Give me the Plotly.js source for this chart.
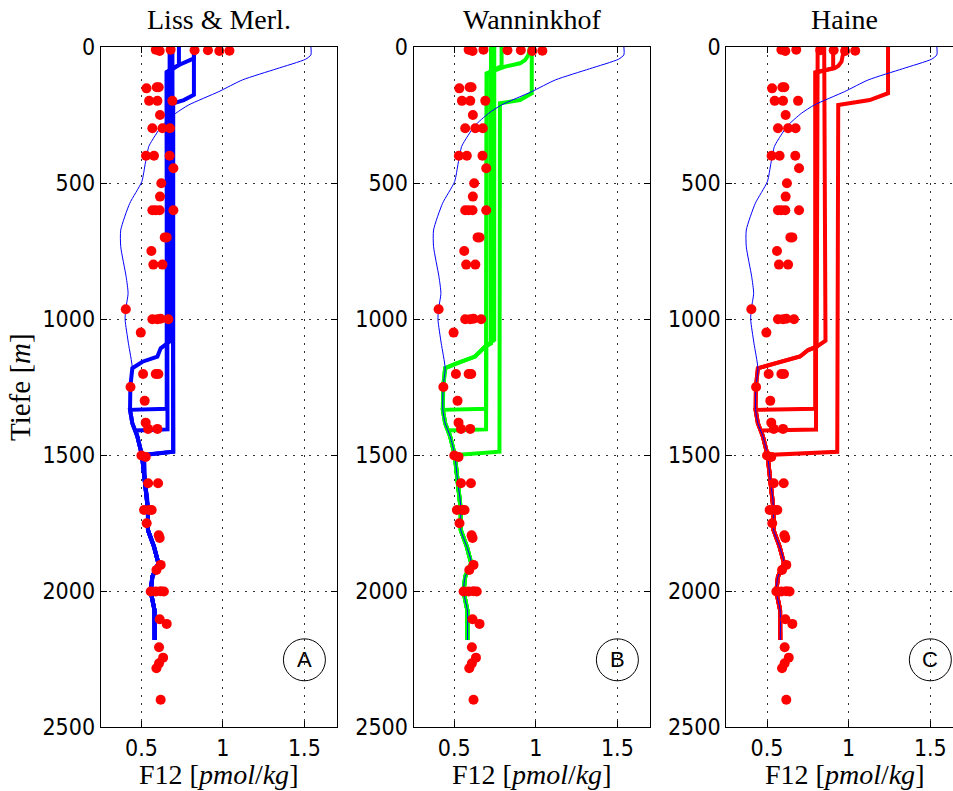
<!DOCTYPE html>
<html><head><meta charset="utf-8">
<script src="https://cdn.plot.ly/plotly-3.0.1.min.js"></script>
<style>html,body{margin:0;padding:0;overflow:hidden;background:#fff}#chart{width:1000px;height:791px}</style>
</head><body><div id="chart"></div>
<script>
// ---- panel titles / labels ----
const panelTitles = ['Liss &amp; Merl.', 'Wanninkhof', 'Haine'];
const panelLetters = ['A', 'B', 'C'];
const panelColors = ['#0000ff', '#00ff00', '#ff0000'];
const xTickVals = [0.5, 1, 1.5];
const xTickText = ['0.5', '1', '1.5'];
const yTickVals = [0, 500, 1000, 1500, 2000, 2500];
const yTickText = ['0', '500', '1000', '1500', '2000', '2500'];

// ---- thin reference profile (depth m, F12 pmol/kg) ----
const curveDepth = [0, 29, 45, 80, 121, 164, 213, 244, 290, 342, 366, 427, 495, 575, 673, 734, 844, 906, 965, 1003, 1089, 1181, 1249, 1334, 1383, 1432, 1500, 1604, 1659, 1702, 1776, 1837, 1898, 1947, 2002, 2070, 2180];
const curveF12 = [1.54, 1.54, 1.507, 1.33, 1.12, 0.975, 0.79, 0.71, 0.625, 0.567, 0.545, 0.524, 0.502, 0.428, 0.373, 0.373, 0.406, 0.418, 0.403, 0.400, 0.420, 0.444, 0.432, 0.430, 0.444, 0.475, 0.503, 0.522, 0.535, 0.540, 0.540, 0.577, 0.604, 0.567, 0.557, 0.580, 0.581];

// ---- observations (red dots) ----
const obsF12 = [
  0.588, 0.612, 0.679, 0.826, 0.908, 0.978, 1.040,
  0.531, 0.594, 0.606,
  0.547, 0.598, 0.690,
  0.614,
  0.567, 0.629, 0.675,
  0.528, 0.577, 0.673,
  0.696,
  0.622,
  0.614,
  0.567, 0.587, 0.612, 0.696,
  0.643, 0.655,
  0.561,
  0.573, 0.629,
  0.404,
  0.567, 0.598, 0.618, 0.665,
  0.496,
  0.510, 0.588, 0.604,
  0.433,
  0.520,
  0.526,
  0.541, 0.598,
  0.500, 0.526,
  0.541, 0.602,
  0.516, 0.547, 0.563,
  0.532,
  0.606, 0.612,
  0.618, 0.592,
  0.557, 0.588, 0.618, 0.638,
  0.612, 0.655,
  0.608, 0.633, 0.608, 0.592,
  0.618];
const obsDepth = [
  10, 15, 10, 12, 12, 15, 14,
  152, 148, 148,
  198, 198, 198,
  250,
  299, 299, 299,
  400, 400, 400,
  446,
  501,
  550,
  600, 600, 600, 600,
  700, 700,
  750,
  800, 800,
  964,
  1001, 1001, 999, 1001,
  1050,
  1202, 1202, 1202,
  1250,
  1301,
  1381,
  1404, 1404,
  1502, 1507,
  1604, 1604,
  1702, 1702, 1702,
  1751,
  1795, 1805,
  1904, 1923,
  2002, 2002, 2001, 2002,
  2104, 2121,
  2207, 2245, 2266, 2284,
  2400];

// ---- model profiles: upper parts (F12, depth) ; below join they follow the reference profile ----
// Panel A (Liss & Merlivat)
const A0_f = [0.690, 0.695, 0.516];           const A0_d = [0, 1488, 1500];
const A1_f = [0.673, 0.673, 0.618, 0.598, 0.506, 0.444]; const A1_d = [0, 1083, 1108, 1138, 1157, 1181];
const A2_f = [0.730, 0.730, 0.655, 0.655, 0.430]; const A2_d = [0, 66, 92, 1330, 1334];
const A3_f = [0.822, 0.822, 0.730, 0.679, 0.655, 0.660, 0.465]; const A3_d = [0, 42, 66, 84, 94, 1406, 1410];
const A4_f = [0.822, 0.822, 0.760, 0.695, 0.695, 0.503]; const A4_d = [0, 176, 195, 207, 1488, 1500];
// Panel B (Wanninkhof)
const B0_f = [0.725, 0.725, 0.688, 0.627, 0.515, 0.444]; const B0_d = [0, 1090, 1102, 1138, 1163, 1181];
const B1_f = [0.745, 0.745, 0.688, 0.627, 0.515, 0.444]; const B1_d = [0, 1077, 1102, 1138, 1163, 1181];
const B2_f = [0.790, 0.790, 0.699, 0.695, 0.430]; const B2_d = [0, 70, 97, 1330, 1334];
const B3_f = [0.964, 0.955, 0.934, 0.903, 0.811, 0.699, 0.695, 0.465]; const B3_d = [0, 29, 48, 60, 72, 97, 1406, 1410];
const B4_f = [0.975, 0.975, 0.903, 0.780, 0.777, 0.503]; const B4_d = [0, 170, 195, 207, 1488, 1500];
// Panel C (Haine)
const C0_f = [0.810, 0.810, 0.804, 0.752, 0.702, 0.549, 0.444]; const C0_d = [0, 1090, 1102, 1114, 1138, 1163, 1181];
const C1_f = [0.850, 0.858, 0.804, 0.752, 0.702, 0.549, 0.444]; const C1_d = [0, 1080, 1102, 1114, 1138, 1163, 1181];
const C2_f = [0.905, 0.905, 0.795, 0.795, 0.430]; const C2_d = [0, 78, 93, 1330, 1334];
const C3_f = [0.966, 0.966, 0.956, 0.936, 0.915, 0.800, 0.800, 0.465]; const C3_d = [0, 23, 54, 70, 78, 94, 1406, 1410];
const C4_f = [1.241, 1.241, 1.129, 0.936, 0.930, 0.503]; const C4_d = [0, 170, 195, 213, 1488, 1500];

const models = [
  [[A0_f, A0_d], [A1_f, A1_d], [A2_f, A2_d], [A3_f, A3_d], [A4_f, A4_d]],
  [[B0_f, B0_d], [B1_f, B1_d], [B2_f, B2_d], [B3_f, B3_d], [B4_f, B4_d]],
  [[C0_f, C0_d], [C1_f, C1_d], [C2_f, C2_d], [C3_f, C3_d], [C4_f, C4_d]]
];

function withTail(f, d) {
  const join = d[d.length - 1];
  const xs = f.slice(), ys = d.slice();
  for (let i = 0; i < curveDepth.length; i++) {
    if (curveDepth[i] > join) { xs.push(curveF12[i]); ys.push(curveDepth[i]); }
  }
  return [xs, ys];
}

const W = 1000, H = 791;
const domainsPx = [[100.7, 337], [413.5, 650], [726.2, 963]];
const mt = 47, mb = 64, plotH = H - mt - mb;

const traces = [];
const layout = {
  width: W, height: H,
  margin: {l: 0, r: 0, t: mt, b: mb},
  paper_bgcolor: '#fff', plot_bgcolor: '#fff',
  showlegend: false,
  annotations: [], shapes: []
};
const tickFont = {family: 'Liberation Sans Narrow, DejaVu Sans Condensed, Liberation Sans, Arial, sans-serif', size: 23, color: '#000'};
const serif = 'Liberation Serif, Times New Roman, serif';

for (let k = 0; k < 3; k++) {
  const ax = k === 0 ? '' : String(k + 1);
  const xa = 'x' + ax, ya = 'y' + ax;
  const dom = [domainsPx[k][0] / W, domainsPx[k][1] / W];
  layout['xaxis' + ax] = {
    domain: dom, anchor: ya, range: [0.25, 1.7],
    tickmode: 'array', tickvals: xTickVals, ticktext: xTickText,
    ticks: 'inside', ticklen: 6, tickcolor: '#000', mirror: 'ticks',
    showline: true, linecolor: '#000', linewidth: 1,
    showgrid: true, gridcolor: '#333', griddash: '2px,6px', gridwidth: 1,
    zeroline: false, tickfont: tickFont, fixedrange: true
  };
  layout['yaxis' + ax] = {
    domain: [0, 1], anchor: xa, range: [2500, 0],
    tickmode: 'array', tickvals: yTickVals, ticktext: yTickText,
    ticks: 'inside', ticklen: 6, tickcolor: '#000', mirror: 'ticks',
    showline: true, linecolor: '#000', linewidth: 1,
    showgrid: true, gridcolor: '#333', griddash: '2px,6px', gridwidth: 1,
    zeroline: false, tickfont: tickFont, fixedrange: true
  };
  // model lines
  models[k].forEach(m => {
    const [xs, ys] = withTail(m[0], m[1]);
    traces.push({x: xs, y: ys, xaxis: xa, yaxis: ya, type: 'scatter', mode: 'lines',
      line: {color: panelColors[k], width: 4}, hoverinfo: 'skip'});
  });
  // thin reference
  traces.push({x: curveF12, y: curveDepth, xaxis: xa, yaxis: ya, type: 'scatter', mode: 'lines',
    line: {color: '#0000ff', width: 1, shape: 'spline', smoothing: 0.6}, hoverinfo: 'skip'});
  // observations
  traces.push({x: obsF12, y: obsDepth, xaxis: xa, yaxis: ya, type: 'scatter', mode: 'markers',
    marker: {color: '#ff0000', size: 10, line: {width: 0}}, hoverinfo: 'skip'});

  const cx = (dom[0] + dom[1]) / 2;
  layout.annotations.push({
    text: panelTitles[k], xref: 'paper', yref: 'paper', x: cx, y: (H - mb - 20) / plotH,
    xanchor: 'center', yanchor: 'middle', showarrow: false,
    font: {family: serif, size: 28, color: '#000'}
  });
  layout.annotations.push({
    text: 'F12 [<i>pmol</i>/<i>kg</i>]', xref: 'paper', yref: 'paper', x: cx, y: (H - mb - 774) / plotH,
    xanchor: 'center', yanchor: 'middle', showarrow: false,
    font: {family: serif, size: 28, color: '#000'}
  });
  layout.annotations.push({
    text: panelLetters[k], xref: xa, yref: ya, x: 1.5, y: 2253,
    xanchor: 'center', yanchor: 'middle', showarrow: false,
    font: {family: 'Liberation Sans, Arial, sans-serif', size: 22, color: '#000'}
  });
  layout.shapes.push({
    type: 'circle', xref: xa, yref: ya, xsizemode: 'pixel', ysizemode: 'pixel',
    xanchor: 1.5, yanchor: 2253, x0: -21, x1: 21, y0: -21, y1: 21,
    line: {color: '#000', width: 1}, fillcolor: 'rgba(0,0,0,0)'
  });
}
layout.annotations.push({
  text: 'Tiefe [<i>m</i>]', xref: 'paper', yref: 'paper', x: 20 / W, y: 0.5,
  xanchor: 'center', yanchor: 'middle', showarrow: false, textangle: -90,
  font: {family: serif, size: 29, color: '#000'}
});

Plotly.newPlot('chart', traces, layout, {staticPlot: true, displayModeBar: false});
</script></body></html>
